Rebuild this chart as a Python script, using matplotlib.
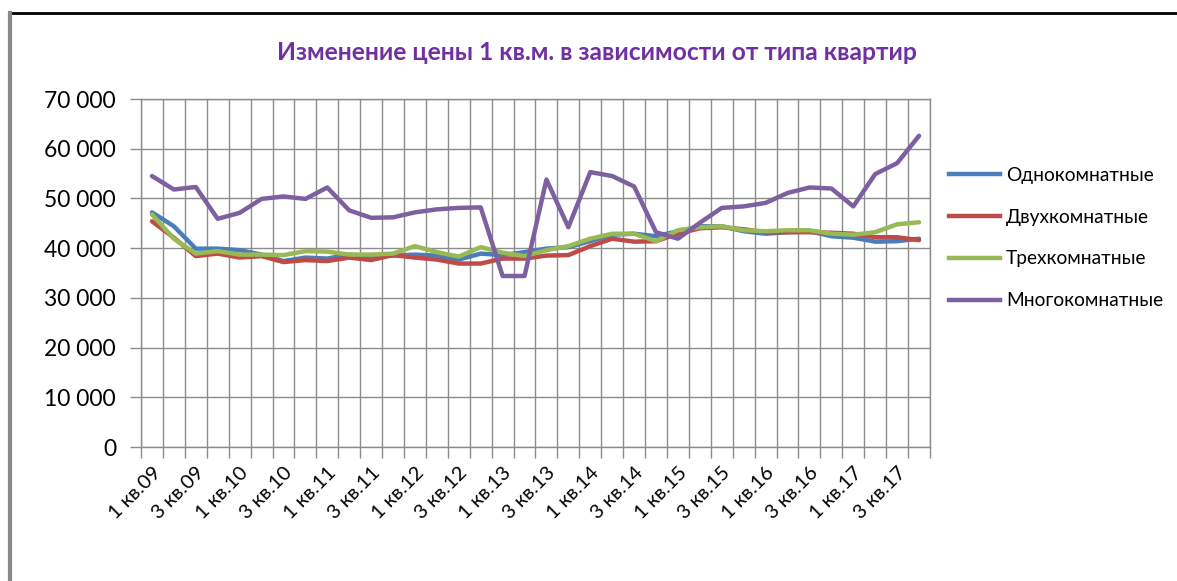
# Цена 1 кв.м. по типам квартир, 2009-2017 (поквартально)

import numpy as np
import matplotlib.pyplot as plt
from matplotlib.ticker import FuncFormatter, MultipleLocator
from matplotlib.lines import Line2D

plt.rcParams["font.family"] = ["Lato", "DejaVu Sans"]

# кварталы: 1 кв.09 ... 4 кв.17
quarters = [f"{q} кв.{y:02d}" for y in range(9, 18) for q in range(1, 5)]

one_room = [47200, 44400, 39900, 39900, 39600, 38700, 37400, 38100, 37900, 38700,
            38400, 38500, 38700, 38500, 37700, 38900, 38600, 39200, 39900, 40200,
            41400, 42700, 42900, 42400, 43400, 44400, 44400, 43400, 42900, 43200,
            43400, 42400, 42100, 41300, 41400, 41900]

two_room = [45400, 42100, 38400, 38900, 38100, 38400, 37200, 37600, 37400, 38100,
            37600, 38600, 38100, 37700, 36900, 36900, 37900, 37900, 38500, 38600,
            40400, 41900, 41300, 41400, 42900, 44000, 44200, 43800, 43200, 43200,
            43200, 43100, 42900, 42200, 42200, 41600]

three_room = [46800, 41900, 38900, 39400, 38700, 38700, 38600, 39400, 39300, 38700,
              38700, 38900, 40400, 39200, 38300, 40200, 39100, 38400, 39600, 40400,
              41900, 42900, 42900, 41400, 43600, 44200, 44400, 43600, 43400, 43600,
              43600, 42900, 42700, 43200, 44800, 45200]

multi_room = [54500, 51800, 52300, 45900, 47100, 49900, 50400, 49900, 52200, 47600,
              46100, 46200, 47200, 47800, 48100, 48200, 34400, 34400, 53800, 44200,
              55300, 54500, 52400, 43200, 41900, 45100, 48100, 48400, 49100, 51100,
              52200, 52000, 48400, 54900, 57100, 62600]

series = ["Однокомнатные", "Двухкомнатные", "Трехкомнатные", "Многокомнатные"]
colors = ["#4A7EBB", "#BE4B48", "#98B954", "#7D60A0"]

fig = plt.figure(figsize=(11.77, 5.81), dpi=100)
W, H = 1177, 581
ax = fig.add_axes([141 / W, 1 - 447 / H, (930 - 141) / W, (447 - 99) / H])

x = np.arange(len(quarters))
for vals, name, c in zip([one_room, two_room, three_room, multi_room], series, colors):
    ax.plot(x, vals, color=c, lw=3.2, label=name, solid_capstyle="round")

ax.set_xlim(-0.5, len(quarters) - 0.5)
ax.set_ylim(0, 70000)

grid_c = "#8C8C8C"
# вертикальная сетка по границам категорий
ax.set_xticks(np.arange(-0.5, len(quarters), 1), minor=True)
ax.set_xticks(x[::2])
ax.set_xticklabels(quarters[::2], rotation=45, ha="right", va="top",
                   rotation_mode="anchor", fontsize=14.5)
ax.tick_params(axis="x", which="major", length=0, pad=12)
ax.tick_params(axis="x", which="minor", length=8, color=grid_c, width=1)
ax.grid(True, which="minor", axis="x", color=grid_c, lw=1)

ax.yaxis.set_major_locator(MultipleLocator(10000))
ax.yaxis.set_major_formatter(FuncFormatter(lambda v, p: f"{int(v):,}".replace(",", " ")))
ax.tick_params(axis="y", length=8, color=grid_c, width=1, labelsize=16.5, pad=10)
ax.grid(True, which="major", axis="y", color=grid_c, lw=1)
ax.set_axisbelow(True)

for s in ax.spines.values():
    s.set_color(grid_c)
    s.set_linewidth(1)

fig.text(597 / W, 1 - 52 / H, "Изменение цены 1 кв.м. в зависимости от типа квартир",
         ha="center", va="center", fontsize=17.7, fontweight="bold", color="#7030A0")

handles = [Line2D([0], [0], color=c, lw=3.2) for c in colors]
fig.legend(handles, series, loc="center left", bbox_to_anchor=(941 / W, 1 - 238 / H),
           frameon=False, fontsize=13.8, handlelength=2.7, labelspacing=1.3,
           handletextpad=0.3, borderaxespad=0)

# рамка диаграммы
fig.add_artist(Line2D([10 / W, 1], [1 - 13 / H, 1 - 13 / H], color="black", lw=2))
fig.add_artist(Line2D([10 / W, 10 / W], [0, 1 - 13 / H], color="#888888", lw=3))

fig.savefig("out.png", dpi=100)
